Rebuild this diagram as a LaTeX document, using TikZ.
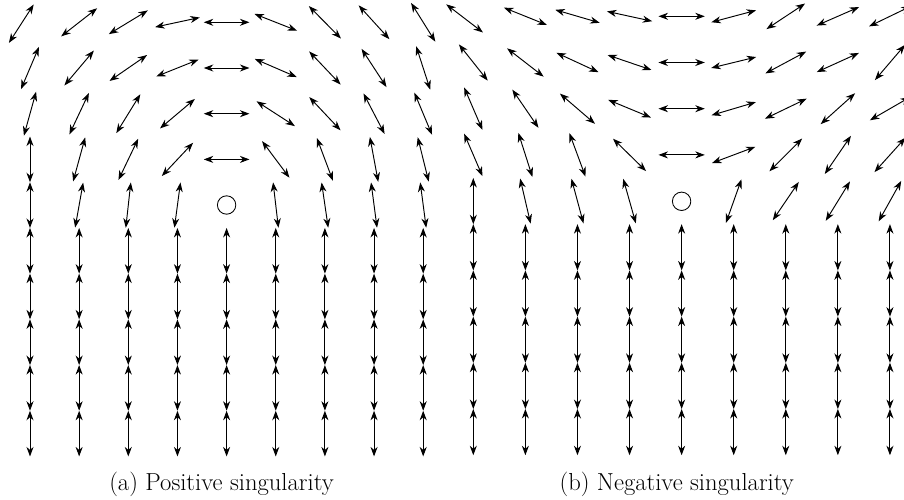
\documentclass[tikz,border=0pt]{standalone}
\usetikzlibrary{arrows.meta}
\tikzset{
  tipstyle/.tip={Stealth[length=9.5pt,width=7pt,inset=3pt]},
  fieldarrow/.style={line width=0.95pt,{tipstyle}-{tipstyle}},
  core/.style={draw,line width=0.85pt,circle,minimum size=18.4pt,inner sep=0pt},
  captext/.style={font=\fontsize{24.6}{28}\selectfont,anchor=base,inner sep=0pt}
}
% #1,#2 centre (image px, y down), #3 tilt from vertical (+ = "/"), #4 half length
\newcommand\fieldarr[4]{\draw[fieldarrow,shift={(#1,#2)}] (#3-90:#4) -- (#3+90:#4);}
\begin{document}
\begin{tikzpicture}[x=1pt,y=-1pt]
\useasboundingbox (0,0) rectangle (904,500);

% ---------------- (a) positive singularity ----------------
\def\LA{22.85}
\fieldarr{21.3}{23.7}{32.8}{\LA}
\foreach \c/\a in {1/52,2/58.7,3/77.9,4/90,5/-68.5,6/-44.7,7/-42.3,8/-32}
  {\fieldarr{30+49.15*\c}{22.3}{\a}{\LA}}
\foreach \c/\a in {0/23,1/40.2,2/55.4,3/68.2,4/90,5/-66.6,6/-43.5,7/-33.1,8/-17.9}
  {\fieldarr{30+49.15*\c}{22.3+45.7}{\a}{\LA}}
\foreach \c/\a in {0/15.5,1/25.2,2/31.7,3/49.8,4/90,5/-57.1,6/-43.2,7/-27.5,8/-22.7}
  {\fieldarr{30+49.15*\c}{22.3+45.7*2}{\a}{\LA}}
\foreach \c/\a in {0/0,1/15.3,2/25.6,3/43.2,4/90,5/-36.8,6/-20.6,7/-10.5,8/-13.9}
  {\fieldarr{30+49.15*\c}{22.3+45.7*3}{\a}{\LA}}
\foreach \c/\a in {0/0,1/10.1,2/6.3,3/7.6,5/-6.7,6/-8.3,7/-7.5,8/-7.5}
  {\fieldarr{30+49.15*\c}{22.3+45.7*4}{\a}{\LA}}
\foreach \r in {5,...,9}
  \foreach \c in {0,...,8}
    {\fieldarr{30+49.15*\c}{22.3+45.7*\r}{0}{\LA}}
\node[core] (cpos) at (226.6,205) {};
\node[captext] (capa) at (221.5,490.5) {(a) Positive singularity};

% ---------------- (b) negative singularity ----------------
\def\LB{23.15}
\fieldarr{464.6}{18.4}{-52.5}{\LB}
\foreach \c/\a in {1/-68.1,2/-73.7,3/-77.7,4/90,5/75.1,6/56.5,7/66.4,8/64.2}
  {\fieldarr{473.3+52.08*\c}{16.3}{\a}{\LB}}
\foreach \c/\a in {0/-38.5,1/-52.2,2/-65.2,3/-71.2,4/90,5/76.3,6/61.8,7/65.6,8/40.5}
  {\fieldarr{473.3+52.08*\c}{16.3+46.2}{\a}{\LB}}
\foreach \c/\a in {0/-23.3,1/-34.4,2/-49.3,3/-67.5,4/90,5/73.5,6/64.3,7/48.1,8/60}
  {\fieldarr{473.3+52.08*\c}{16.3+46.2*2}{\a}{\LB}}
\foreach \c/\a in {0/-23.3,1/-17.7,2/-20.3,3/-45.6,4/90,5/69.4,6/45,7/34.4,8/42}
  {\fieldarr{473.3+52.08*\c}{16.3+46.2*3}{\a}{\LB}}
\foreach \c/\a in {0/0,1/-13.1,2/-15.1,3/-15.8,5/19.6,6/34.2,7/31.6,8/29.2}
  {\fieldarr{473.3+52.08*\c}{16.3+46.2*4}{\a}{\LB}}
\foreach \r in {5,...,9}
  \foreach \c in {0,...,8}
    {\fieldarr{473.3+52.08*\c}{16.3+46.2*\r}{0}{\LB}}
\node[core] (cneg) at (681.6,201.3) {};
\node[captext] (capb) at (676.7,490.5) {(b) Negative singularity};
\end{tikzpicture}
\end{document}
